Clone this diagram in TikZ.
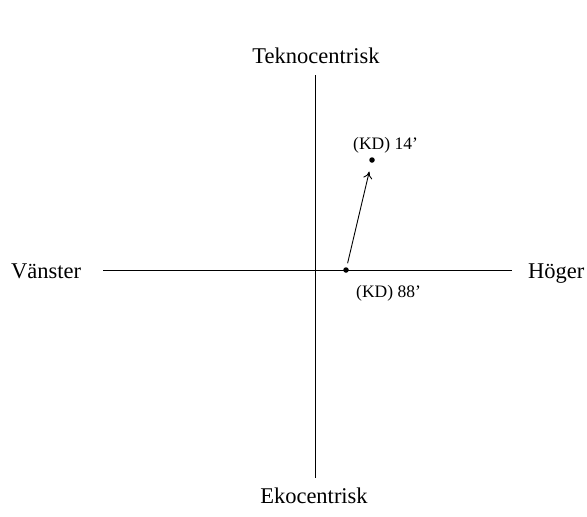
\documentclass[tikz,border=0pt]{standalone}
\usepackage{fontspec}
\setmainfont{Liberation Serif}
\usetikzlibrary{arrows.meta}
\begin{document}
\begin{tikzpicture}[x=1pt,y=-1pt,
  axis/.style={line width=1pt,black},
  big/.style={font=\fontsize{22.5}{26}\selectfont,inner sep=0pt},
  small/.style={font=\fontsize{17.5}{20}\selectfont,inner sep=0pt},
  dot/.style={circle,fill=black,inner sep=0pt,minimum size=5.5pt},
  move/.style={line width=0.9pt,-{To[length=7pt,width=9pt]},shorten <=4pt,shorten >=9pt}]
\useasboundingbox (0,0) rectangle (587,517);
\coordinate (top) at (315,75);
\coordinate (bot) at (315,478);
\coordinate (lft) at (103,270);
\coordinate (rgt) at (512,270);
\draw[axis] (top) -- (bot);
\draw[axis] (lft) -- (rgt);
\node[big] (tek) at (316,56) {Teknocentrisk};
\node[big] (eko) at (314,496) {Ekocentrisk};
\node[big,anchor=base west] (van) at (11,278) {Vänster};
\node[big,anchor=base west] (hog) at (528,278) {Höger};
\node[dot] (p88) at (346,270) {};
\node[dot] (p14) at (372,160) {};
\node[small,anchor=base west] (l14) at (353,149) {(KD) 14'};
\node[small,anchor=base west] (l88) at (356,297) {(KD) 88'};
\draw[move] (p88) -- (p14);
\end{tikzpicture}
\end{document}
